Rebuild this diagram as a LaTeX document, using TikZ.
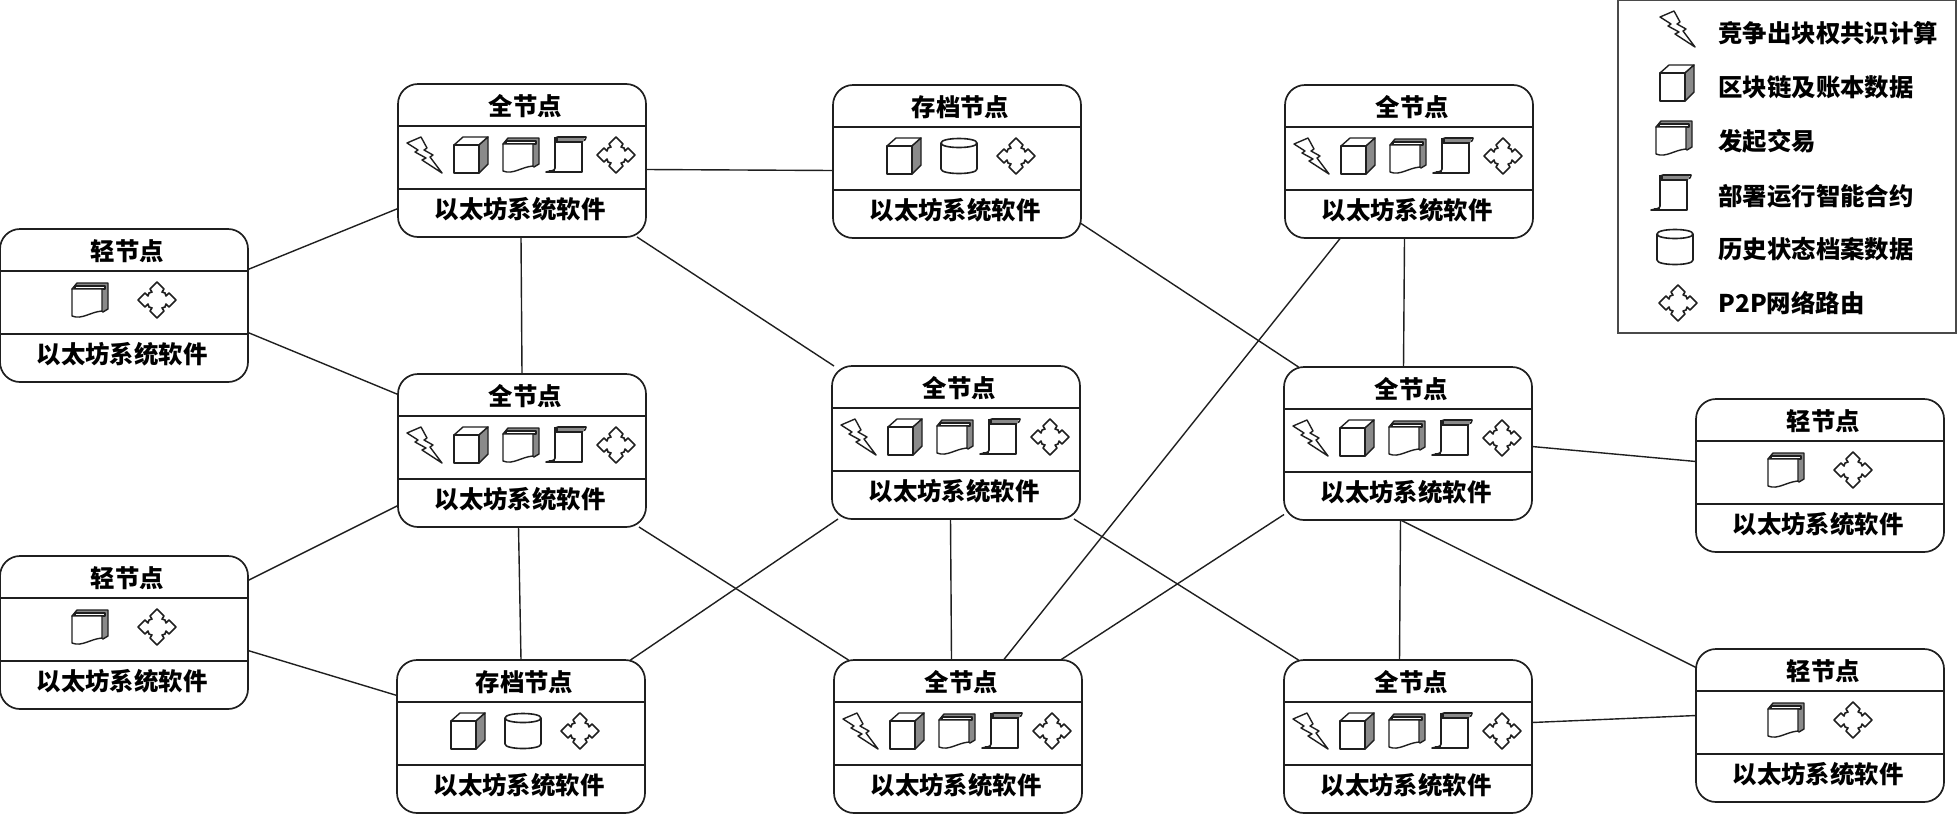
\documentclass[tikz,border=0pt]{standalone}
\usepackage{fontspec}
\setmainfont{Noto Sans CJK SC}
\usepackage{xcolor}
\usepackage{tikz}
\usetikzlibrary{calc, backgrounds}
\definecolor{ndLine}{HTML}{1F1F1F}
\definecolor{ndGray}{HTML}{8A8A8A}
\definecolor{ndDark}{HTML}{4A4A4A}

\newcommand{\unitbox}[4]{%
  \node[unit] (#1) at (#2,#3) {};
  \node[unittext] (#1h) at ($(#1.north)+(3.5,22)$) {#4};
  \node[unittext] (#1f) at ($(#1.south)+(-2,-28)$) {以太坊系统软件};
  \draw[unitrule] ($(#1.north west)+(0,42)$) -- ($(#1.north east)+(0,42)$);
  \draw[unitrule] ($(#1.north west)+(0,105)$) -- ($(#1.north east)+(0,105)$);
}

\begin{document}
\begin{tikzpicture}[
  x=0.5pt, y=-0.5pt,
  unit/.style={draw=ndLine, fill=white, line width=0.85pt, rounded corners=10pt, anchor=north west,
               minimum width=124pt, minimum height=76.5pt, inner sep=0pt, outer sep=0pt},
  unittext/.style={font=\fontsize{12.2pt}{14pt}\selectfont\bfseries, inner sep=0pt, text=black},
  unitrule/.style={ndLine, line width=0.85pt},
  link/.style={ndLine, line width=0.7pt},
  legendbox/.style={draw=ndDark, fill=white, line width=1pt, anchor=north west,
                    minimum width=169pt, minimum height=166.5pt, inner sep=0pt, outer sep=0pt},
  legendtext/.style={font=\fontsize{12.2pt}{14pt}\selectfont\bfseries, inner sep=0pt, anchor=west, text=black},
  icon/.style={ndLine, line width=0.7pt, line join=round},
  iconbolt/.pic={
    \draw[icon, fill=white] (-17,-12) -- (-3,-18) -- (3,-7) -- (0,-5) -- (9,0) -- (6,2) -- (18,18)
      -- (-2,5) -- (2,3) -- (-9,-3) -- (-6,-5) -- cycle;
  },
  iconcube/.pic={
    \draw[icon, fill=white] (-17,-10) -- (-8,-18) -- (17,-18) -- (8,-10) -- cycle;
    \draw[icon, fill=ndGray] (8,-10) -- (17,-18) -- (17,9) -- (8,18) -- cycle;
    \draw[icon, line width=0.6pt, fill=white] (-17,-10) rectangle (8,18);
  },
  iconpaper/.pic={
    \draw[icon, fill=ndGray] (-13,-17) -- (18,-17) -- (18,9) -- (13,12) -- (-18,-11) -- cycle;
    \draw[icon, fill=white] (-15,-14) -- (15,-14) -- (15,-11) -- (-15,-11) -- cycle;
    \draw[icon, fill=white] (-18,-11) -- (12,-11) -- (12,11)
      .. controls (0,12) and (-8,20) .. (-18,16) -- cycle;
  },
  iconscroll/.pic={
    \draw[icon, line width=0.8pt, fill=white] (-12,-15) .. controls (-12,-17) and (-11,-18) .. (-9,-18) -- (19,-18)
      .. controls (19,-16) and (18,-14) .. (15,-14) -- (15,17) -- (-21,17)
      .. controls (-17,16) and (-12,16) .. (-12,13) -- cycle;
    \draw[icon, line width=0.8pt] (-12,-13) -- (15,-13);
    \fill[ndGray] (-10,-17) rectangle (17,-14);
    \fill[ndLine] (-13,-18) rectangle (-9,-13);
    \fill[ndLine] (-18,14.5) rectangle (-12,17.5);
  },
  iconcyl/.pic={
    \draw[icon, line width=0.8pt, fill=white] (-18,-13) .. controls (-18,-19) and (18,-19) .. (18,-13) -- (18,13)
      .. controls (18,19) and (-18,19) .. (-18,13) -- cycle;
    \draw[icon, line width=0.8pt] (-18,-13) .. controls (-18,-7) and (18,-7) .. (18,-13);
  },
  iconroute/.pic={
    \draw[icon, line width=0.8pt, fill=white] (0,-18) -- (7,-11) -- (5,-8) -- (8,-7) -- (9,-4) -- (12,-7) -- (19,0)
      -- (12,7) -- (9,4) -- (8,7) -- (5,8) -- (7,11) -- (0,18)
      -- (-7,11) -- (-5,8) -- (-8,7) -- (-9,4) -- (-12,7) -- (-19,0)
      -- (-12,-7) -- (-9,-4) -- (-8,-7) -- (-5,-8) -- (-7,-11) -- cycle;
  }
]
  \useasboundingbox (0,0) rectangle (1958,814);

  \foreach \n/\x/\y in {fn1/398/84, fn2/398/374, fn3/832/366, fn4/1284/367, fn5/1285/85, fn6/834/660, fn7/1284/660}{
    \unitbox{\n}{\x}{\y}{全节点}
    \pic at (\x+26,\y+71) {iconbolt};
    \pic at (\x+73,\y+71) {iconcube};
    \pic at (\x+123,\y+71) {iconpaper};
    \pic at (\x+169,\y+71) {iconscroll};
    \pic at (\x+218,\y+71) {iconroute};
  }
  \foreach \n/\x/\y in {ar1/833/85, ar2/397/660}{
    \unitbox{\n}{\x}{\y}{存档节点}
    \pic at (\x+71,\y+71) {iconcube};
    \pic at (\x+126,\y+71) {iconcyl};
    \pic at (\x+183,\y+71) {iconroute};
  }
  \foreach \n/\x/\y in {lt1/0/229, lt2/0/556, lt3/1696/399, lt4/1696/649}{
    \unitbox{\n}{\x}{\y}{轻节点}
    \pic at (\x+90,\y+71) {iconpaper};
    \pic at (\x+157,\y+71) {iconroute};
  }

  \begin{scope}[on background layer]
    \draw[link] ([shift={(0,-36)}]lt1.east) -- ([shift={(0,48)}]fn1.west);
    \draw[link] ([shift={(0,27)}]lt1.east) -- ([shift={(0,-56)}]fn2.west);
    \draw[link] ([shift={(0,9)}]fn1.east) -- ([shift={(0,9)}]ar1.west);
    \draw[link] ([shift={(-1,0)}]fn1.south) -- (fn2.north);
    \draw[link] ([shift={(115,0)}]fn1.south) -- ([shift={(-122,0)}]fn3.north);
    \draw[link] ([shift={(0,62)}]ar1.east) -- ([shift={(-109.5,0)}]fn4.north);
    \draw[link] ([shift={(-4.5,0)}]fn5.south) -- ([shift={(-4.5,0)}]fn4.north);
    \draw[link] ([shift={(-68.5,0)}]fn5.south) -- ([shift={(45.5,0)}]fn6.north);
    \draw[link] ([shift={(0,-52)}]lt2.east) -- ([shift={(0,55)}]fn2.west);
    \draw[link] ([shift={(0,18)}]lt2.east) -- ([shift={(0,-41)}]ar2.west);
    \draw[link] ([shift={(-3.5,0)}]fn2.south) -- (ar2.north);
    \draw[link] ([shift={(117,0)}]fn2.south) -- ([shift={(-109.5,0)}]fn6.north);
    \draw[link] ([shift={(-118,0)}]fn3.south) -- ([shift={(109.5,0)}]ar2.north);
    \draw[link] ([shift={(-5.5,0)}]fn3.south) -- ([shift={(-6.5,0)}]fn6.north);
    \draw[link] ([shift={(118,0)}]fn3.south) -- ([shift={(-109.5,0)}]fn7.north);
    \draw[link] ([shift={(0,71)}]fn4.west) -- ([shift={(102.5,0)}]fn6.north);
    \draw[link] ([shift={(-7.5,0)}]fn4.south) -- ([shift={(-8.5,0)}]fn7.north);
    \draw[link] ([shift={(0,3)}]fn4.east) -- ([shift={(0,-14)}]lt3.west);
    \draw[link] ([shift={(-7.5,0)}]fn4.south) -- ([shift={(0,-58)}]lt4.west);
    \draw[link] ([shift={(0,-14)}]fn7.east) -- ([shift={(0,-10)}]lt4.west);
  \end{scope}

  \node[legendbox] (legend) at (1618,0) {};
  \pic at (1677,29) {iconbolt};
  \pic at (1677,83) {iconcube};
  \pic at (1674,138) {iconpaper};
  \pic at (1672,193) {iconscroll};
  \pic at (1675,247) {iconcyl};
  \pic at (1678,303) {iconroute};
  \node[legendtext] (lg1) at (1718,33) {竞争出块权共识计算};
  \node[legendtext] (lg2) at (1718,87) {区块链及账本数据};
  \node[legendtext] (lg3) at (1718,141) {发起交易};
  \node[legendtext] (lg4) at (1718,196) {部署运行智能合约};
  \node[legendtext] (lg5) at (1718,249) {历史状态档案数据};
  \node[legendtext] (lg6) at (1718,303) {P2P网络路由};
\end{tikzpicture}
\end{document}
